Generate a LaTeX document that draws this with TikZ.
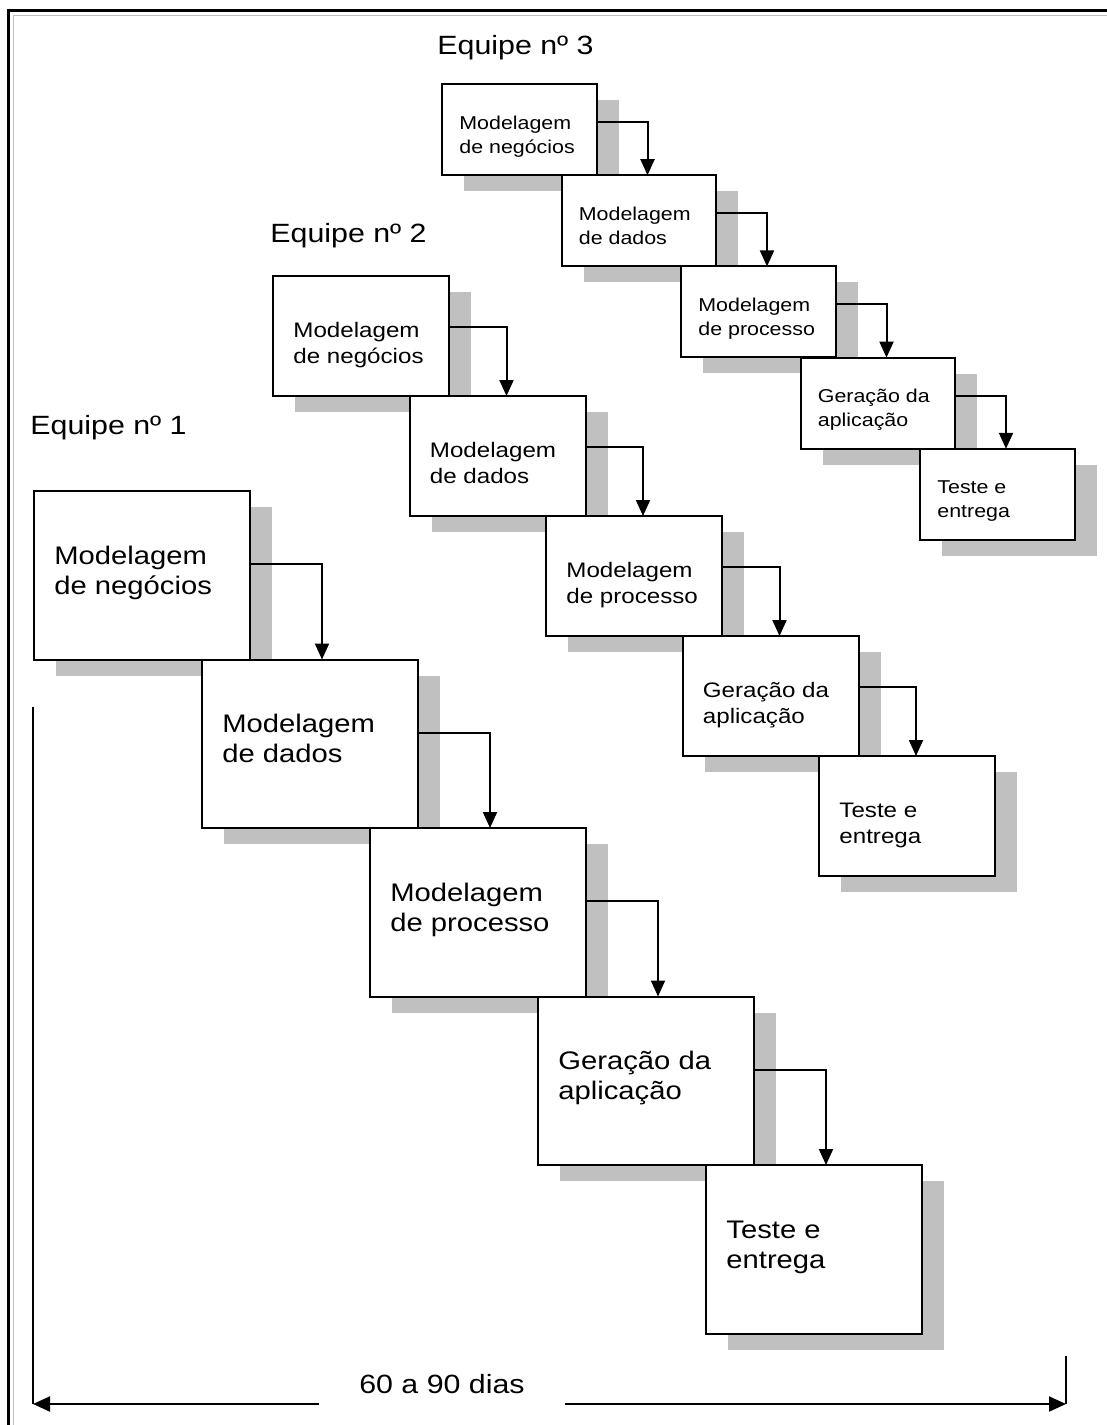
\documentclass[tikz,border=0pt]{standalone}
\usepackage{fontspec}
\setmainfont{Liberation Sans}[FakeStretch=1.15]
\usetikzlibrary{calc,shadows,arrows.meta}
\definecolor{shadowgray}{RGB}{192,192,192}
\begin{document}
\begin{tikzpicture}[x=0.5pt,y=-0.5pt,
  stage/.style={draw=black, fill=white, line width=1pt, rectangle, inner sep=0pt,
    outer sep=0pt, anchor=north west,
    drop shadow={shadow xshift=11pt, shadow yshift=-8pt, fill=shadowgray, opacity=1}},
  bigstage/.style={stage, minimum width=108pt, minimum height=84.25pt},
  midstage/.style={stage, minimum width=88pt, minimum height=60pt},
  smallstage/.style={stage, minimum width=77.25pt, minimum height=45.5pt},
  stagetext/.style={anchor=base west, inner sep=0pt},
  bigtext/.style={stagetext, font=\fontsize{12.7pt}{15pt}\selectfont},
  midtext/.style={stagetext, font=\fontsize{10.5pt}{13.3pt}\selectfont},
  smalltext/.style={stagetext, font=\fontsize{9.3pt}{12pt}\selectfont},
  teamlabel/.style={anchor=base west, inner sep=0pt, font=\fontsize{13.2pt}{15pt}\selectfont},
  flow/.style={line width=1pt, -{Triangle[length=8pt,width=7pt]}},
  span/.style={line width=1pt},
]
\useasboundingbox (0,0) rectangle (1107,1425);

% page frame (top and left edges)
\draw[line width=1.1pt] (8.5,1425) -- (8.5,10.5) -- (1107,10.5);
\draw[line width=0.75pt, shadowgray] (13.5,1425) -- (13.5,15.5) -- (1107,15.5);

% team labels
\node[teamlabel] (team1) at (30,434) {Equipe nº 1};
\node[teamlabel] (team2) at (270,242) {Equipe nº 2};
\node[teamlabel] (team3) at (437,54) {Equipe nº 3};

% team 1: large stages
\foreach \k/\txt [count=\n from 0] in {a/{Modelagem\\de negócios},b/{Modelagem\\de dados},c/{Modelagem\\de processo},d/{Geração da\\aplicação},e/{Teste e\\entrega}}{
  \node[bigstage] (p1\k) at ({34+168*\n},{491+168.5*\n}) {};
  \node[bigtext] (p1\k text) at ($(p1\k.north west)+(20,73)$) {\begin{tabular}[t]{@{}l@{}}\txt\end{tabular}};
}
\foreach \a/\b in {a/b,b/c,c/d,d/e}
  \draw[flow] ($(p1\a.north east)+(0,73)$) -| ($(p1\b.north west)+(120,0)$);

% team 2: medium stages
\foreach \k/\txt [count=\n from 0] in {a/{Modelagem\\de negócios},b/{Modelagem\\de dados},c/{Modelagem\\de processo},d/{Geração da\\aplicação},e/{Teste e\\entrega}}{
  \node[midstage] (p2\k) at ({273+136.5*\n},{276+120*\n}) {};
  \node[midtext] (p2\k text) at ($(p2\k.north west)+(20,61)$) {\begin{tabular}[t]{@{}l@{}}\txt\end{tabular}};
}
\foreach \a/\b in {a/b,b/c,c/d,d/e}
  \draw[flow] ($(p2\a.north east)+(0,51)$) -| ($(p2\b.north west)+(97,0)$);

% team 3: small stages
\foreach \k/\txt [count=\n from 0] in {a/{Modelagem\\de negócios},b/{Modelagem\\de dados},c/{Modelagem\\de processo},d/{Geração da\\aplicação},e/{Teste e\\entrega}}{
  \node[smallstage] (p3\k) at ({442+119.5*\n},{84+91.2*\n}) {};
  \node[smalltext] (p3\k text) at ($(p3\k.north west)+(17,45)$) {\begin{tabular}[t]{@{}l@{}}\txt\end{tabular}};
}
\foreach \a/\b in {a/b,b/c,c/d,d/e}
  \draw[flow] ($(p3\a.north east)+(0,38)$) -| ($(p3\b.north west)+(86,0)$);

% overall duration
\coordinate (spanLtop) at (33,707);
\coordinate (spanL) at (33,1404);
\coordinate (spanRtop) at (1066,1356);
\coordinate (spanR) at (1066,1404);
\draw[span] (spanLtop) -- (spanL);
\draw[span] (spanRtop) -- (spanR);
\draw[span, {Triangle[length=8.5pt,width=7.5pt]}-{Triangle[length=8.5pt,width=7.5pt]}] (spanL) -- (spanR);
\node[fill=white, inner xsep=20pt, inner ysep=0pt, text height=17.5pt, text depth=6.5pt,
  anchor=base, font=\fontsize{13.2pt}{15pt}\selectfont] (spanlabel) at (442,1393) {60 a 90 dias};
\end{tikzpicture}
\end{document}
